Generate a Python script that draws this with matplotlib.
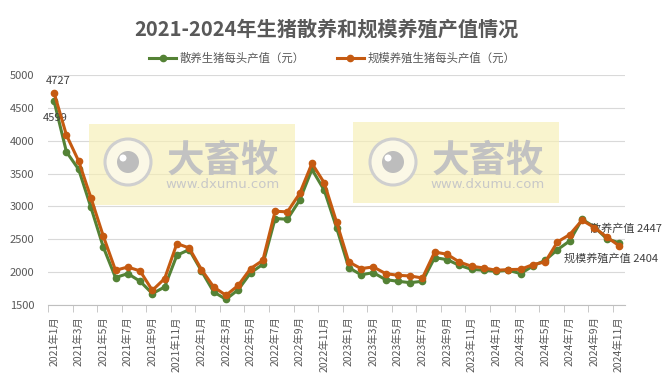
import numpy as np
import matplotlib
matplotlib.use("Agg")
import matplotlib.pyplot as plt
from matplotlib.patches import Rectangle, Circle
from matplotlib.transforms import IdentityTransform

plt.rcParams['font.family'] = ['Noto Sans CJK SC', 'DejaVu Sans']

# 2021年1月 .. 2024年11月
months = [f"{y}年{m}月" for y in range(2021, 2025) for m in range(1, 13)][:47]

sanyang = [4599, 3831, 3563, 2984, 2384, 1917, 1978, 1861, 1673, 1774,
           2257, 2343, 2018, 1698, 1586, 1734, 1988, 2120, 2816, 2805,
           3095, 3563, 3247, 2679, 2069, 1960, 1992, 1886, 1861, 1840,
           1861, 2221, 2191, 2104, 2043, 2028, 2013, 2028, 1978, 2094,
           2180, 2343, 2475, 2805, 2689, 2511, 2447]
guimo = [4727, 4086, 3689, 3130, 2551, 2028, 2078, 2018, 1723, 1902,
         2435, 2368, 2039, 1774, 1647, 1800, 2054, 2180, 2927, 2917,
         3197, 3654, 3359, 2765, 2155, 2054, 2079, 1978, 1952, 1942,
         1911, 2307, 2272, 2155, 2089, 2064, 2028, 2039, 2043, 2115,
         2155, 2460, 2572, 2790, 2679, 2536, 2404]

W, H = 671, 379
fig = plt.figure(figsize=(W / 100, H / 100), dpi=100)
ax = fig.add_axes([48 / W, 1 - 305 / H, 577 / W, 230 / H])

x = np.arange(1, len(months) + 1)
green = '#548235'
orange = '#C55A11'
l1, = ax.plot(x, sanyang, color=green, lw=2.2, marker='o', ms=4.5, zorder=3,
              label='散养生猪每头产值（元）')
l2, = ax.plot(x, guimo, color=orange, lw=2.2, marker='o', ms=4.5, zorder=4,
              label='规模养殖生猪每头产值（元）')

ax.set_xlim(0.5, len(months) + 0.5)
ax.set_ylim(1500, 5000)
ax.set_yticks(np.arange(1500, 5001, 500))
ax.yaxis.grid(True, color='#D9D9D9', lw=0.8)
ax.set_axisbelow(True)
for s in ['top', 'right', 'left']:
    ax.spines[s].set_visible(False)
ax.spines['bottom'].set_color('#BFBFBF')
ax.tick_params(axis='y', length=0, pad=10, labelsize=8, labelcolor='#595959')

ax.set_xticks(x[::2])
ax.set_xticklabels(months[::2], rotation=90)
ax.set_xticks(np.arange(0.5, len(months), 2), minor=True)
ax.tick_params(axis='x', which='major', length=0, pad=8, labelsize=7.5,
               labelcolor='#595959')
ax.tick_params(axis='x', which='minor', length=5, color='#BFBFBF', direction='out')

# data labels
lab = dict(fontsize=8, color='#404040', textcoords='offset pixels', va='center')
ax.annotate('4727', xy=(1, guimo[0]), xytext=(4, 12), ha='center', **lab)
ax.annotate('4599', xy=(1, sanyang[0]), xytext=(1, -17), ha='center', **lab)
ax.annotate('散养产值 2447', xy=(x[-1], sanyang[-1]), xytext=(-29, 14), ha='left', **lab)
ax.annotate('规模养殖产值 2404', xy=(x[-1], guimo[-1]), xytext=(-55, -13), ha='left', **lab)

# watermark
tr = IdentityTransform()
def wm(x0, x1, y0, y1, cx, cy, tx):
    ax.add_patch(Rectangle((x0, H - y1), x1 - x0, y1 - y0, transform=tr,
                           facecolor='#F7EFB5', alpha=0.65, lw=0, zorder=1,
                           clip_on=False))
    ax.add_patch(Circle((cx, H - cy), 23, transform=tr, facecolor='#FBF8E6',
                        edgecolor='#CFCFCF', lw=2.2, zorder=1.1, clip_on=False))
    ax.add_patch(Circle((cx, H - cy), 11, transform=tr, facecolor='#BDBDBD',
                        lw=0, zorder=1.2, clip_on=False))
    ax.add_patch(Circle((cx - 5, H - cy + 4), 3.5, transform=tr, facecolor='white',
                        lw=0, zorder=1.3, clip_on=False))
    ax.text(tx, H - 160, '大畜牧', transform=tr, ha='center', va='center',
            fontsize=27, fontweight='bold', color='#C2C2C2', zorder=1.2)
    ax.text(tx, H - 185, 'www.dxumu.com', transform=tr, ha='center', va='center',
            fontsize=9.5, color='#C8C8C8', family='DejaVu Sans', zorder=1.2)

wm(89, 295, 124, 205, 128, 162, 223)
wm(353, 559, 122, 203, 393, 162, 488)

fig.text(0.486, 0.923, '2021-2024年生猪散养和规模养殖产值情况', ha='center',
         va='center', fontsize=14.5, fontweight='bold', color='#595959')
fig.legend(handles=[l1, l2], loc='center', bbox_to_anchor=(0.495, 0.847), ncol=2,
           frameon=False, fontsize=8.2, handlelength=2.4, handletextpad=0.3,
           columnspacing=2.8, labelcolor='#595959')

fig.savefig('out.png', dpi=100)
